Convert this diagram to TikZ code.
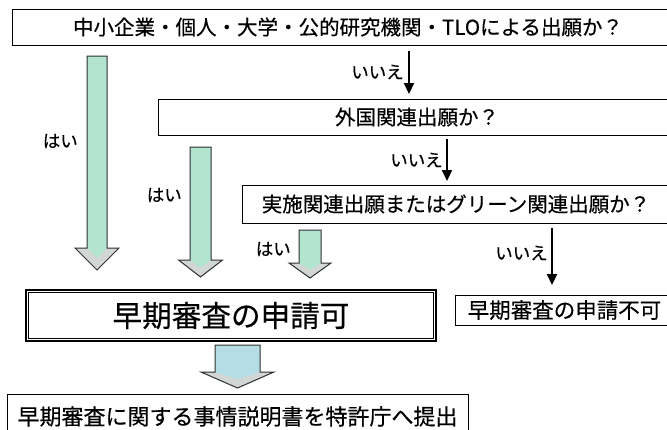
\documentclass[tikz,border=0pt]{standalone}
\usepackage{fontspec}
\setmainfont{Noto Sans CJK JP}[FakeBold=0.4]
\usetikzlibrary{arrows.meta}
\definecolor{mint}{HTML}{B2E4D0}
\definecolor{pblue}{HTML}{B5DDE6}
\definecolor{headgray}{HTML}{D2D7D5}
\definecolor{arrline}{HTML}{303030}
\newcommand\fatarrow[7]{%
  \fill[#7] ({#1-#2},#4) -- ({#1+#2},#4) -- ({#1+#2},#5) -- ({#1+#3},#5) -- (#1,#6) -- ({#1-#3},#5) -- ({#1-#2},#5) -- cycle;
  \fill[headgray] ({#1+#3},#5) -- (#1,#6) -- ({#1-#3},#5) -- cycle;
  \fill[#7] ({#1-#2},#5) -- ({#1+#2},#5) -- (#1,{#5+(#6-#5)*0.45}) -- cycle;
  \draw[arrline, line width=1pt, line join=miter] ({#1-#2},#4) -- ({#1+#2},#4) -- ({#1+#2},#5) -- ({#1+#3},#5) -- (#1,#6) -- ({#1-#3},#5) -- ({#1-#2},#5) -- cycle;
}
\tikzset{
  qbox/.style={draw=black, line width=1pt, fill=white, inner sep=0pt, font=\fontsize{20.5}{24}\selectfont},
  lbl/.style={inner sep=0pt, font=\fontsize{17.5}{20}\selectfont},
  noarrow/.style={line width=2.2pt, -{Triangle[length=11pt,width=10pt]}},
}
\begin{document}
\begin{tikzpicture}[x=1pt,y=-1pt]
\useasboundingbox (0,0) rectangle (667,429);
\clip (0,0) rectangle (667,429);
\fill[white] (0,0) rectangle (667,429);

% question boxes
\node[qbox, minimum width=672pt, minimum height=36pt] (q1) at (348,27) {中小企業・個人・大学・公的研究機関・TLOによる出願か？};
\node[qbox, minimum width=518pt, minimum height=36pt] (q2) at (417,117) {外国関連出願か？};
\node[qbox, minimum width=428pt, minimum height=38pt] (q3) at (456,204) {実施関連出願またはグリーン関連出願か？};
\node[qbox, minimum width=219pt, minimum height=30pt, font=\fontsize{21.5}{25}\selectfont] (no) at (564.5,310) {早期審査の申請不可};
\node[qbox, line width=2.5pt, minimum width=410pt, minimum height=51pt, font=\fontsize{29.6}{34}\selectfont] (yes) at (231,315.5) {早期審査の申請可};
\draw[line width=1pt] ([shift={(4pt,-4pt)}]yes.north west) rectangle ([shift={(-4pt,4pt)}]yes.south east);
\node[qbox, minimum width=461pt, minimum height=46pt, font=\fontsize{22}{27}\selectfont] (sub) at (237.5,417) {\raisebox{3pt}{早期審査に関する事情説明書を特許庁へ提出}};

% fat arrows (はい)
\fatarrow{97}{10}{22}{56}{248}{270}{mint}
\fatarrow{200.5}{10.5}{22}{147}{260}{277}{mint}
\fatarrow{310}{11}{21}{230}{263}{278}{mint}
\fatarrow{237.5}{22.5}{36.5}{345}{372}{388}{pblue}

% black arrows (いいえ)
\coordinate (a1s) at (409,51);
\coordinate (a1e) at (409,94);
\coordinate (a2s) at (447,139);
\coordinate (a2e) at (447,181);
\coordinate (a3s) at (552,228);
\coordinate (a3e) at (552,285);
\draw[noarrow] (a1s) -- (a1e);
\draw[noarrow] (a2s) -- (a2e);
\draw[noarrow] (a3s) -- (a3e);

% labels
\node[lbl, anchor=east] (n1) at (404,72) {いいえ};
\node[lbl, anchor=east] (n2) at (443,160) {いいえ};
\node[lbl, anchor=east] (n3) at (548,253) {いいえ};
\node[lbl, anchor=east] (y1) at (78,141) {はい};
\node[lbl, anchor=east] (y2) at (182,195) {はい};
\node[lbl, anchor=east] (y3) at (291,249) {はい};
\end{tikzpicture}
\end{document}
